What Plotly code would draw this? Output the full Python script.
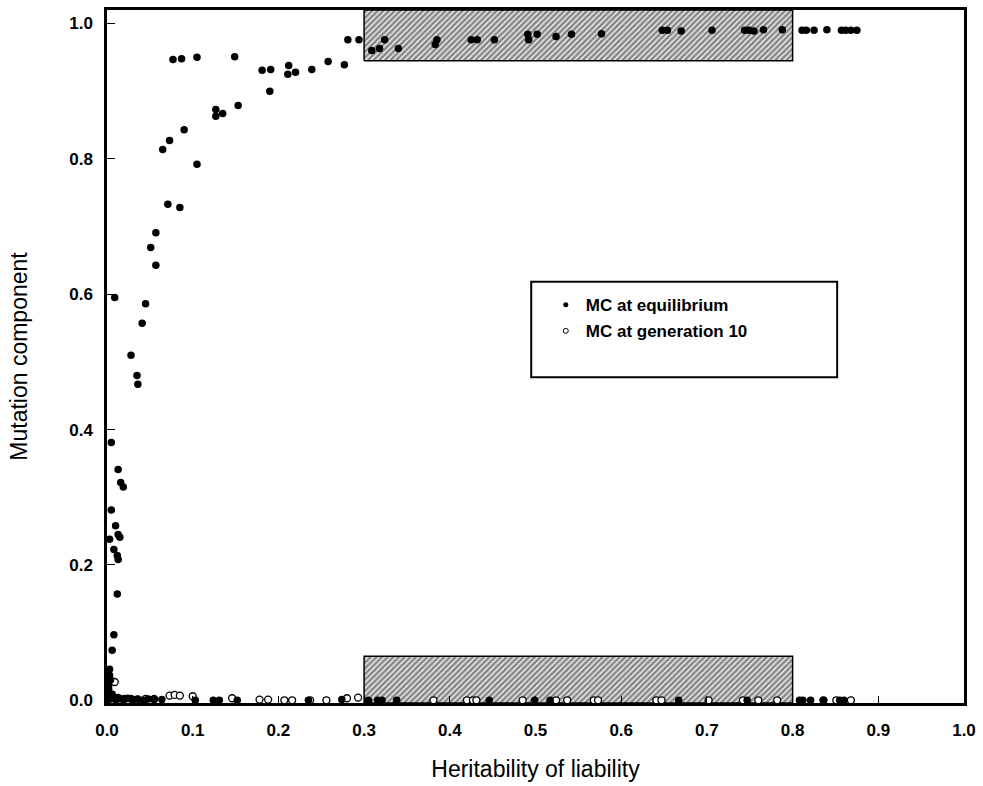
import plotly.graph_objects as go

# ---- data ----
eq_x = [0.001, 0.002, 0.003, 0.003, 0.006, 0.008, 0.012, 0.013, 0.012, 0.008, 0.003, 0.015, 0.013, 0.010,
        0.005, 0.019, 0.016, 0.013, 0.005, 0.036, 0.035, 0.028, 0.041, 0.045, 0.009, 0.057, 0.051, 0.057,
        0.085, 0.071, 0.105, 0.065, 0.073, 0.090, 0.127, 0.135, 0.127, 0.153, 0.190, 0.211, 0.220, 0.181,
        0.191, 0.239, 0.212, 0.258, 0.077, 0.087, 0.105, 0.149, 0.277,
        0.281, 0.294, 0.309, 0.318, 0.324, 0.340, 0.383, 0.385, 0.425, 0.432, 0.452, 0.491, 0.492, 0.502,
        0.524, 0.542, 0.577, 0.648, 0.654, 0.670, 0.706, 0.744, 0.749, 0.755, 0.766, 0.788, 0.811, 0.816,
        0.825, 0.840, 0.857, 0.862, 0.868, 0.875,
        0.000, 0.002, 0.004, 0.006, 0.008, 0.010, 0.013, 0.016, 0.020, 0.024, 0.030, 0.036, 0.042, 0.048,
        0.055, 0.064, 0.103, 0.124, 0.131, 0.152, 0.235, 0.274, 0.305, 0.316, 0.321, 0.338, 0.446, 0.499,
        0.517, 0.667, 0.747, 0.808, 0.812, 0.821, 0.836, 0.855, 0.860,
        0.004, 0.002, 0.005, 0.001]
eq_y = [0.012, 0.022, 0.037, 0.046, 0.074, 0.097, 0.157, 0.208, 0.214, 0.223, 0.238, 0.241, 0.245, 0.258,
        0.281, 0.315, 0.322, 0.341, 0.381, 0.467, 0.480, 0.510, 0.557, 0.586, 0.595, 0.643, 0.669, 0.691,
        0.728, 0.733, 0.792, 0.814, 0.827, 0.843, 0.863, 0.867, 0.873, 0.879, 0.900, 0.925, 0.928, 0.931,
        0.932, 0.932, 0.938, 0.944, 0.947, 0.948, 0.950, 0.951, 0.939,
        0.976, 0.976, 0.960, 0.963, 0.976, 0.963, 0.969, 0.976, 0.976, 0.976, 0.976, 0.984, 0.976, 0.984,
        0.981, 0.984, 0.985, 0.990, 0.990, 0.989, 0.990, 0.990, 0.990, 0.989, 0.991, 0.991, 0.990, 0.990,
        0.990, 0.991, 0.990, 0.990, 0.990, 0.990,
        0.000, 0.005, 0.002, 0.009, 0.003, 0.001, 0.004, 0.002, 0.001, 0.003, 0.001, 0.002, 0.000, 0.002,
        0.001, 0.001, 0.000, 0.000, 0.000, 0.000, 0.000, 0.001, 0.000, 0.000, 0.000, 0.000, 0.000, 0.000,
        0.000, 0.000, 0.000, 0.000, 0.000, 0.000, 0.000, 0.000, 0.000,
        0.030, 0.016, 0.008, 0.005]

gen10_x = [0.009, 0.002, 0.005, 0.012, 0.020, 0.028, 0.035, 0.045, 0.055, 0.073, 0.079, 0.085, 0.100,
           0.146, 0.178, 0.188, 0.207, 0.216, 0.237, 0.256, 0.280, 0.293, 0.381, 0.420, 0.427, 0.431,
           0.485, 0.524, 0.537, 0.568, 0.573, 0.641, 0.647, 0.702, 0.742, 0.760, 0.782, 0.836, 0.851, 0.868]
gen10_y = [0.027, 0.010, 0.005, 0.003, 0.002, 0.002, 0.001, 0.002, 0.002, 0.007, 0.008, 0.007, 0.006,
           0.003, 0.001, 0.001, 0.000, 0.000, 0.000, 0.000, 0.003, 0.004, 0.000, 0.000, 0.000, 0.000,
           0.000, 0.000, 0.000, 0.000, 0.000, 0.000, 0.000, 0.000, 0.000, 0.000, 0.000, 0.000, 0.000, 0.000]

band_x = [0.3, 0.8]          # hatched heritability range
band_top_y = [0.945, 1.02]   # upper hatched band
band_bot_y = [-0.004, 0.065] # lower hatched band

tick_vals = [0.0, 0.1, 0.2, 0.3, 0.4, 0.5, 0.6, 0.7, 0.8, 0.9, 1.0]
ytick_vals = [0.0, 0.2, 0.4, 0.6, 0.8, 1.0]

series_names = ["MC at equilibrium", "MC at generation 10"]

FONT = "Liberation Sans, Arial, sans-serif"

fig = go.Figure()

hatch = dict(shape="/", size=4, solidity=0.7, fgcolor="#111111", bgcolor="white")
for by in (band_top_y, band_bot_y):
    fig.add_trace(go.Scatter(
        x=[band_x[0], band_x[1], band_x[1], band_x[0], band_x[0]],
        y=[by[0], by[0], by[1], by[1], by[0]],
        mode="lines", fill="toself", fillcolor="white", fillpattern=hatch,
        line=dict(color="black", width=1.5), showlegend=False, hoverinfo="skip"))

fig.add_trace(go.Scatter(x=gen10_x, y=gen10_y, mode="markers", showlegend=False,
                         marker=dict(symbol="circle", size=7, color="white",
                                     line=dict(color="black", width=1.3))))
fig.add_trace(go.Scatter(x=eq_x, y=eq_y, mode="markers", showlegend=False,
                         marker=dict(symbol="circle", size=7.5, color="black",
                                     line=dict(color="black", width=0))))

# legend entries
fig.add_trace(go.Scatter(x=[None], y=[None], mode="markers", name=series_names[0],
                         legendgroup="a",
                         marker=dict(symbol="circle", size=5, color="black")))
fig.add_trace(go.Scatter(x=[None], y=[None], mode="markers", name=series_names[1],
                         legendgroup="b",
                         marker=dict(symbol="circle", size=5, color="white",
                                     line=dict(color="black", width=1))))

# legend frame (paper coordinates)
fig.add_shape(type="rect", xref="paper", yref="paper",
              x0=0.495, x1=0.852, y0=0.470, y1=0.608,
              line=dict(color="black", width=2), fillcolor="rgba(0,0,0,0)")

fig.update_layout(
    width=983, height=786,
    margin=dict(l=107, r=18, t=7, b=83),
    paper_bgcolor="white", plot_bgcolor="white",
    font=dict(family=FONT, color="black"),
    showlegend=True,
    legend=dict(x=0.512, y=0.600, xanchor="left", yanchor="top",
                bgcolor="rgba(0,0,0,0)", borderwidth=0,
                font=dict(family=FONT, size=17, color="black", weight="bold"),
                traceorder="grouped", tracegroupgap=1, itemwidth=30),
    xaxis=dict(range=[0, 1.0], tickvals=tick_vals, tickformat=".1f",
               showgrid=False, zeroline=False, showline=True, mirror=True,
               linecolor="black", linewidth=2.5,
               ticks="inside", ticklen=7, tickwidth=1, tickcolor="black",
               ticklabelstandoff=10,
               tickfont=dict(family=FONT, size=17, weight="bold"),
               title=dict(text="Heritability of liability",
                          font=dict(family=FONT, size=23), standoff=22)),
    yaxis=dict(range=[-0.004, 1.02], tickvals=ytick_vals, tickformat=".1f",
               showgrid=False, zeroline=False, showline=True, mirror=True,
               linecolor="black", linewidth=2.5,
               ticks="inside", ticklen=8, tickwidth=1, tickcolor="black",
               ticklabelstandoff=8,
               tickfont=dict(family=FONT, size=17, weight="bold"),
               title=dict(text="Mutation component",
                          font=dict(family=FONT, size=23), standoff=36)),
)

fig.write_html("out.html")
